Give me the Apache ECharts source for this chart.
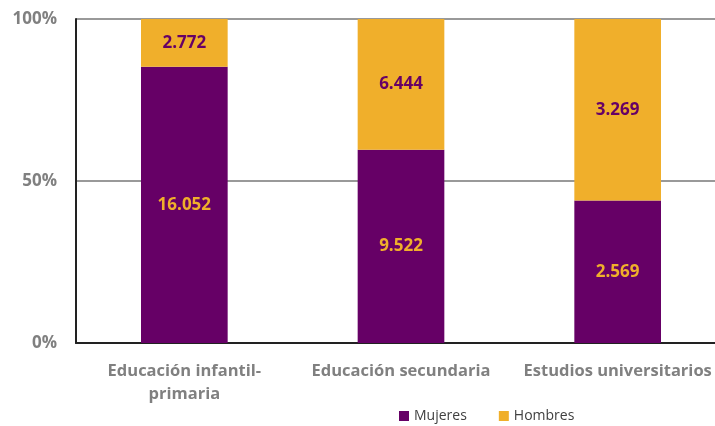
<!DOCTYPE html>
<html>
<head>
<meta charset="utf-8">
<script src="https://cdn.jsdelivr.net/npm/echarts@6/dist/echarts.min.js"></script>
<style>
  html, body { margin: 0; padding: 0; background: #fff; }
  #chart { width: 715px; height: 426px; }
</style>
</head>
<body>
<div id="chart"></div>
<script>
const categories = ['Educación infantil-\nprimaria', 'Educación secundaria', 'Estudios universitarios'];
const mujeres = [16052, 9522, 2569];
const hombres = [2772, 6444, 3269];

const purple = '#660066';
const orange = '#F0AF2B';

// share of each group, so both stacks reach 100%
const pct = (arr, i) => arr[i] / (mujeres[i] + hombres[i]) * 100;
const fmt = v => v.toLocaleString('de-DE');

const chart = echarts.init(document.getElementById('chart'));

const labelFor = color => ({
  show: true,
  position: 'inside',
  color: color,
  fontWeight: 'bold',
  fontSize: 17,
  fontFamily: 'Open Sans',
  formatter: p => fmt(p.data.raw)
});

chart.setOption({
  animation: false,
  textStyle: { fontFamily: 'Open Sans' },
  grid: { left: 76, top: 19, width: 650, bottom: 83, outerBoundsMode: 'none', containLabel: false },
  legend: {
    data: ['Mujeres', 'Hombres'],
    left: 394,
    top: 404,
    itemWidth: 10,
    itemHeight: 10,
    itemGap: 32,
    icon: 'rect',
    textStyle: { color: '#404040', fontSize: 14, fontFamily: 'Open Sans' }
  },
  xAxis: {
    type: 'category',
    data: categories,
    axisLine: { lineStyle: { color: '#222', width: 2 } },
    axisTick: { show: false },
    axisLabel: {
      interval: 0,
      hideOverlap: false,
      color: '#808080',
      fontWeight: 'bold',
      fontSize: 16.5,
      margin: 17,
      lineHeight: 23
    }
  },
  yAxis: {
    type: 'value',
    min: 0,
    max: 100,
    interval: 50,
    axisLine: { show: true, lineStyle: { color: '#222', width: 2 } },
    axisTick: { show: false },
    splitLine: { lineStyle: { color: '#999', width: 2 } },
    axisLabel: {
      formatter: '{value}%',
      color: '#808080',
      fontWeight: 'bold',
      fontSize: 17,
      margin: 19
    }
  },
  series: [
    {
      name: 'Mujeres',
      type: 'bar',
      stack: 'total',
      barWidth: '40%',
      itemStyle: { color: purple },
      label: labelFor(orange),
      data: mujeres.map((v, i) => ({ value: pct(mujeres, i), raw: v }))
    },
    {
      name: 'Hombres',
      type: 'bar',
      stack: 'total',
      itemStyle: { color: orange },
      label: labelFor(purple),
      data: hombres.map((v, i) => ({ value: pct(hombres, i), raw: v }))
    }
  ]
});
</script>
</body>
</html>
